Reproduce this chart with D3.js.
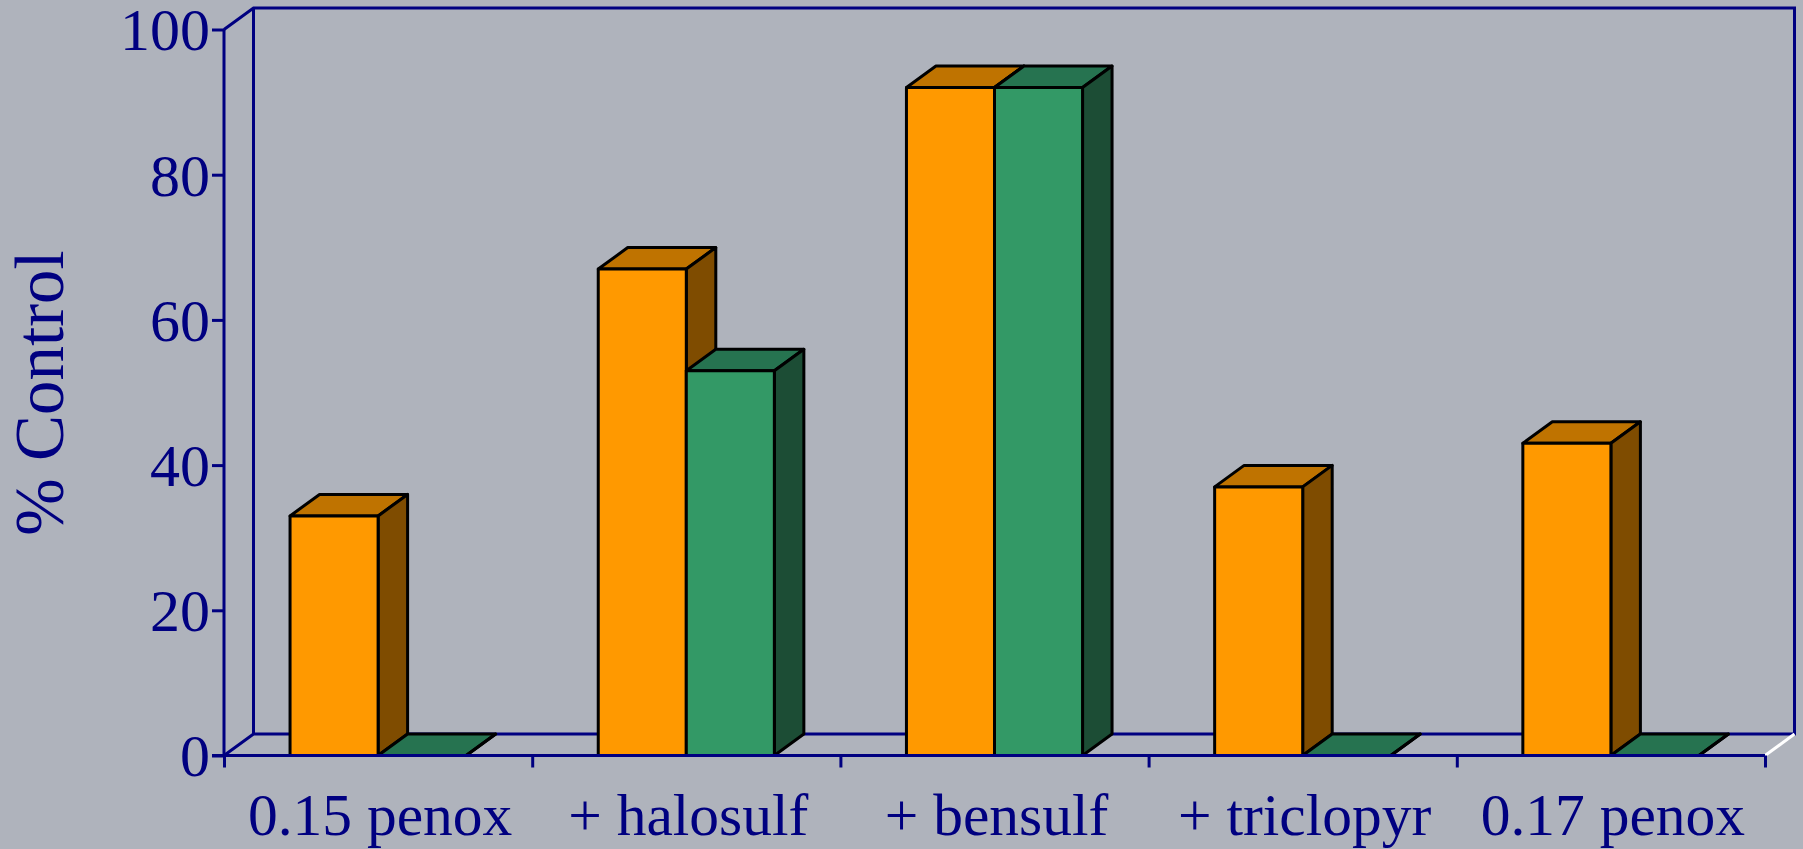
<!DOCTYPE html>
<html>
<head>
<meta charset="utf-8">
<script src="https://cdn.jsdelivr.net/npm/d3@7/dist/d3.min.js"></script>
<style>
html,body{margin:0;padding:0;background:#AFB3BC;overflow:hidden}
svg{display:block}
text{font-family:"Liberation Serif",serif;fill:#000080}
</style>
</head>
<body>
<script>
const categories = ["0.15 penox", "+ halosulf", "+ bensulf", "+ triclopyr", "0.17 penox"];
const seriesA = [33, 67, 92, 37, 43];
const seriesB = [0, 53, 92, 0, 0];
const yTicks = [0, 20, 40, 60, 80, 100];
const axisTitle = "% Control";
const orange = {front:"#FF9900", top:"#BF7300", side:"#7F4C00"};
const green = {front:"#339966", top:"#267350", side:"#1C4D35"};
const navy = "#000080";

const W = 1803, H = 849;
const plotLeft = 224, plotRight = 1765, plotTop = 29.5, plotBottom = 755.5;
const dx = 29.5, dy = -21.5;
const lw = 3;

const svg = d3.select("body").append("svg").attr("width", W).attr("height", H);
svg.append("rect").attr("width", W).attr("height", H).attr("fill", "#AFB3BC");

const y = d3.scaleLinear().domain([0, 100]).range([plotBottom, plotTop]);
const xBand = d3.scaleBand().domain(categories).range([plotLeft, plotRight]);
const inner = d3.scaleBand().domain(["a", "b"]).range([0, xBand.bandwidth()]).paddingInner(0).paddingOuter(0.75);
const edges = d3.scaleLinear().domain([0, categories.length]).range([plotLeft, plotRight]);

// back wall and floor
const wall = svg.append("g").attr("fill", "none").attr("stroke", navy).attr("stroke-width", lw);
wall.append("path").attr("d", d3.line()([[plotLeft, plotBottom],[plotLeft + dx, plotBottom + dy],[plotRight + dx, plotBottom + dy],[plotRight + dx, plotTop + dy],[plotLeft + dx, plotTop + dy],[plotLeft, plotTop]]));
wall.append("path").attr("d", d3.line()([[plotLeft + dx, plotTop + dy],[plotLeft + dx, plotBottom + dy]]));
svg.append("path").attr("d", d3.line()([[plotRight, plotBottom],[plotRight + dx, plotBottom + dy]]))
  .attr("stroke", "#FFFFFF").attr("stroke-width", lw).attr("fill", "none");

// bars
function box(g, x0, w, v, c) {
  const x1 = x0 + w, yt = y(v), yb = y(0);
  const poly = (pts, fill) => g.append("path").attr("d", d3.line()(pts) + "Z")
    .attr("fill", fill).attr("stroke", "#000").attr("stroke-width", lw).attr("stroke-linejoin", "round");
  poly([[x0, yt],[x0 + dx, yt + dy],[x1 + dx, yt + dy],[x1, yt]], c.top);
  poly([[x1, yt],[x1 + dx, yt + dy],[x1 + dx, yb + dy],[x1, yb]], c.side);
  poly([[x0, yt],[x1, yt],[x1, yb],[x0, yb]], c.front);
}
const bars = svg.append("g");
categories.forEach((cat, i) => {
  const g = bars.append("g");
  box(g, xBand(cat) + inner("a"), inner.bandwidth(), seriesA[i], orange);
  box(g, xBand(cat) + inner("b"), inner.bandwidth(), seriesB[i], green);
});

// axes
const yAxis = d3.axisLeft(y).tickValues(yTicks).tickSize(12).tickPadding(2);
const yG = svg.append("g").attr("transform", `translate(${plotLeft},0)`).call(yAxis);
yG.select(".domain").attr("stroke", navy).attr("stroke-width", lw).attr("d", `M0,${plotTop}V${plotBottom}`);
yG.selectAll("line").attr("stroke", navy).attr("stroke-width", lw);
yG.selectAll("text").attr("font-size", 60).attr("fill", navy).style("font-family", '"Liberation Serif",serif').attr("dy", "0.34em");

const xAxis = d3.axisBottom(edges).tickValues(d3.range(categories.length + 1)).tickSize(12).tickFormat("");
const xG = svg.append("g").attr("transform", `translate(0,${plotBottom})`).call(xAxis);
xG.select(".domain").attr("stroke", navy).attr("stroke-width", lw).attr("d", `M${plotLeft - 12},0H${plotRight}`);
xG.selectAll("line").attr("stroke", navy).attr("stroke-width", lw);

svg.append("g").selectAll("text").data(categories).join("text")
  .attr("x", d => xBand(d) + xBand.bandwidth() / 2 + 2)
  .attr("y", 835)
  .attr("text-anchor", "middle")
  .attr("font-size", 59.5)
  .text(d => d);

svg.append("text")
  .attr("transform", `translate(63,393) rotate(-90)`)
  .attr("text-anchor", "middle")
  .attr("font-size", 69)
  .text(axisTitle);
</script>
</body>
</html>
